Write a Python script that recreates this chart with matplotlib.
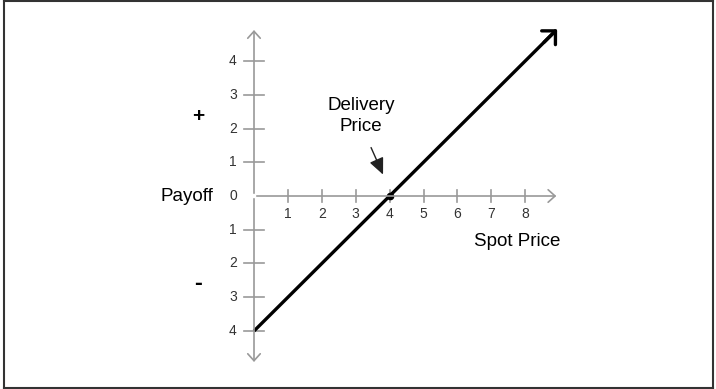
import numpy as np
import matplotlib
matplotlib.use('Agg')
import matplotlib.pyplot as plt

# payoff of a long forward, delivery price 4
spot = [0, 4, 9]
payoff = [-4, 0, 5]
delivery = 4
xticks = [1, 2, 3, 4, 5, 6, 7, 8]
yticks = [4, 3, 2, 1, 0, -1, -2, -3, -4]
ylabels = ['4', '3', '2', '1', '0', '1', '2', '3', '4']

plt.rcParams['font.family'] = ['Liberation Sans', 'DejaVu Sans']

fig = plt.figure(figsize=(7.16, 3.89), dpi=100)
ax = fig.add_axes([4/716, 1/389, 709/716, 387/389])
ax.set_xlim(-7.375, 13.54)
ax.set_ylim(-5.689, 5.778)
ax.set_xticks([])
ax.set_yticks([])
for s in ax.spines.values():
    s.set_color('#333333')
    s.set_linewidth(1.5)

grey = '#999999'
axstyle = '->,head_length=0.5,head_width=0.45'
# axes with open arrow heads
ax.annotate('', xy=(9.0, 0), xytext=(0, 0),
            arrowprops=dict(arrowstyle=axstyle, color=grey, lw=1.2))
ax.annotate('', xy=(0, 5.0), xytext=(0, 0),
            arrowprops=dict(arrowstyle=axstyle, color=grey, lw=1.2))
ax.annotate('', xy=(0, -5.0), xytext=(0, 0),
            arrowprops=dict(arrowstyle=axstyle, color=grey, lw=1.2))

for x in xticks:
    ax.plot([x, x], [-0.17, 0.17], color=grey, lw=1.2)
    ax.text(x, -0.53, str(x), ha='center', va='center', fontsize=10, color='#333333')
for y, lab in zip(yticks, ylabels):
    if y != 0:
        ax.plot([-0.3, 0.3], [y, y], color=grey, lw=1.2)
    ax.text(-0.62, y, lab, ha='center', va='center', fontsize=10, color='#333333')

# payoff line
ax.plot(spot[:2] + [spot[2] - 0.1], payoff[:2] + [payoff[2] - 0.1], color='black', lw=2.4,
        solid_capstyle='butt')
ax.annotate('', xy=(spot[2], payoff[2]), xytext=(spot[2] - 0.5, payoff[2] - 0.5),
            arrowprops=dict(arrowstyle='->,head_length=0.7,head_width=0.7', color='black', lw=2.4))
ax.plot([delivery], [0], 'o', color='black', ms=4.5)

ax.annotate('', xy=(3.84, 0.56), xytext=(3.42, 1.51),
            arrowprops=dict(arrowstyle='-|>,head_length=1.0,head_width=0.45', color='#222222', lw=1.0))

ax.text(3.16, 2.37, 'Delivery\nPrice', ha='center', va='center', fontsize=13.5, linespacing=1.3)
ax.text(-1.99, 0, 'Payoff', ha='center', va='center', fontsize=13.5)
ax.text(7.76, -1.36, 'Spot Price', ha='center', va='center', fontsize=13.5)
ax.text(-1.65, 2.35, '+', ha='center', va='center', fontsize=15, fontweight='bold')
ax.text(-1.65, -2.6, '-', ha='center', va='center', fontsize=17, fontweight='bold')

plt.savefig('out.png', dpi=100)
